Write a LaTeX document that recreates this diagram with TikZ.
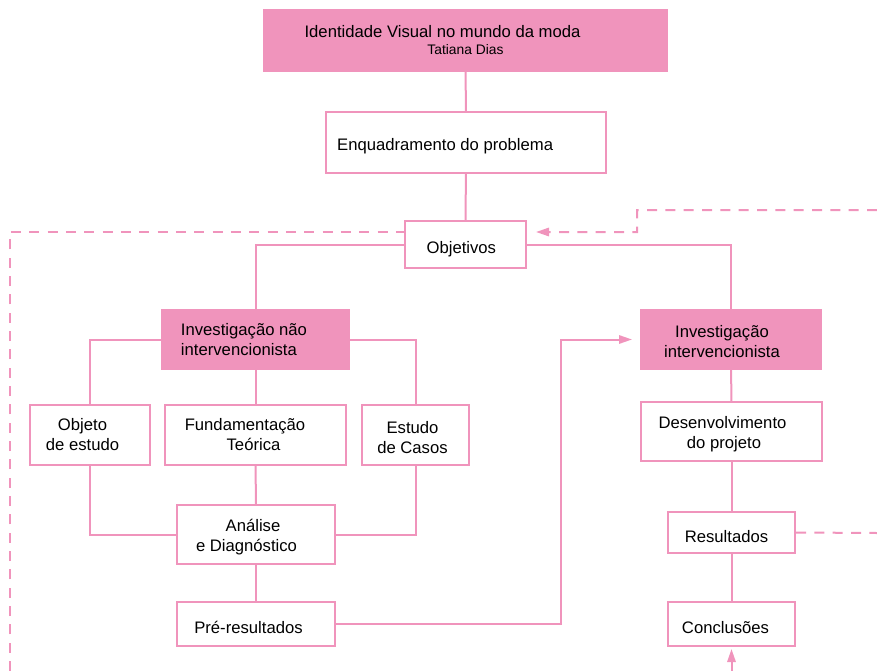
\documentclass[tikz,border=0pt]{standalone}
\usepackage{fontspec}
\setmainfont{Liberation Sans}
\usepackage{tikz}
\usetikzlibrary{positioning,
                arrows.meta}                % arrow tips

\definecolor{rosa}{RGB}{240,148,188}
\newcommand{\padR}[1]{\hspace*{#1}}         % empurra o texto para a esquerda
\newcommand{\topo}[1]{\rule{0pt}{#1}}       % empurra o texto para baixo

\tikzset{
  caixa/.style={draw=rosa, line width=1.2pt, fill=white, align=center,
                inner sep=0pt, font=\fontsize{10}{12}\selectfont},
  caixarosa/.style={caixa, fill=rosa},
  liga/.style={draw=rosa, line width=1.2pt},
  tracejado/.style={liga, dash pattern=on 6pt off 5pt},
  seta/.style={-{Triangle[length=7.8pt,width=5pt]}}
}

\begin{document}
\begin{tikzpicture}[x=0.6pt, y=-0.6pt]
        \useasboundingbox (0,0) rectangle (877,671);

        % caixas
        \node[caixarosa, minimum width=241.8pt, minimum height=36.6pt] (titulo) at (465.5,40.5)
          {Identidade Visual no mundo da moda\padR{27.6pt}\\[-1.8pt]{\fontsize{8.3}{10}\selectfont Tatiana Dias}};
        \node[caixa, minimum width=168pt, minimum height=36.6pt] (enq) at (466,142.5)
          {\topo{12pt}Enquadramento do problema\padR{25pt}};
        \node[caixa, minimum width=72.6pt, minimum height=28.2pt] (objetivos) at (465.5,244.5)
          {\topo{13pt}Objetivos\padR{5pt}};
        \node[caixarosa, align=left, minimum width=112.2pt, minimum height=35.4pt] (invnao) at (255.5,339.5)
          {Investigação não\padR{13.8pt}\\intervencionista};
        \node[caixarosa, minimum width=108pt, minimum height=35.4pt] (invint) at (731,339.5)
          {\topo{9.2pt}Investigação\padR{10.8pt}\\intervencionista\padR{10.8pt}};
        \node[caixa, minimum width=72pt, minimum height=36pt] (objeto) at (90,435)
          {Objeto\padR{9pt}\\de estudo\padR{9pt}};
        \node[caixa, minimum width=108.6pt, minimum height=36pt] (fund) at (255.5,435)
          {Fundamentação\padR{12.6pt}\\Teórica\padR{2.4pt}};
        \node[caixa, minimum width=64.2pt, minimum height=36pt] (estudo) at (415.5,435)
          {\topo{10.2pt}Estudo\padR{3.6pt}\\de Casos\padR{3.6pt}};
        \node[caixa, minimum width=94.8pt, minimum height=35.4pt] (analise) at (256,534.5)
          {\topo{10.2pt}Análise\padR{3.6pt}\\e Diagnóstico\padR{11.4pt}};
        \node[caixa, minimum width=94.8pt, minimum height=26.4pt] (pre) at (256,624)
          {\topo{12pt}Pré-resultados\padR{9pt}};
        \node[caixa, minimum width=108.6pt, minimum height=35.4pt] (desenv) at (731.5,431.5)
          {\topo{10.8pt}Desenvolvimento\padR{10.8pt}\\do projeto\padR{9pt}};
        \node[caixa, minimum width=76.2pt, minimum height=24.6pt] (result) at (731.5,532.5)
          {\topo{12pt}Resultados\padR{6pt}};
        \node[caixa, minimum width=76.2pt, minimum height=26.4pt] (concl) at (731.5,624)
          {\topo{11pt}Conclusões\padR{7.2pt}};

        % pontas soltas das linhas tracejadas
        \coordinate (esqBaixo) at (10,671);
        \coordinate (dirCima) at (877,210);
        \coordinate (dirMeio) at (877,533);
        \coordinate (baixo) at (731.5,671);

        % ligacoes
        \draw[liga] (titulo) -- (enq);
        \draw[liga] (enq) -- (objetivos);
        \draw[liga] (objetivos.west) -| (invnao);
        \draw[liga] (objetivos.east) -| (invint);
        \draw[liga] (invnao.west) -| (objeto);
        \draw[liga] (invnao.east) -| (estudo);
        \draw[liga] (invnao) -- (fund);
        \draw[liga] (objeto) |- (analise);
        \draw[liga] (estudo) |- (analise);
        \draw[liga] (fund) -- (analise);
        \draw[liga] (analise) -- (pre);
        \draw[liga, seta, shorten >=4.8pt] (pre.east) -- ++(225,0) |- (invint.west);
        \draw[liga] (invint) -- (desenv);
        \draw[liga] (desenv) -- (result);
        \draw[liga] (result) -- (concl);

        \draw[tracejado] (esqBaixo) |- ([yshift=7.5pt]objetivos.west);
        \draw[tracejado, seta, shorten >=5.4pt] (dirCima) -| (637,232) -- ([yshift=7.5pt]objetivos.east);
        \draw[tracejado] (result.east) -- (dirMeio);
        \draw[tracejado, seta, shorten >=1.2pt] (baixo) -- (concl);

\end{tikzpicture}
\end{document}
